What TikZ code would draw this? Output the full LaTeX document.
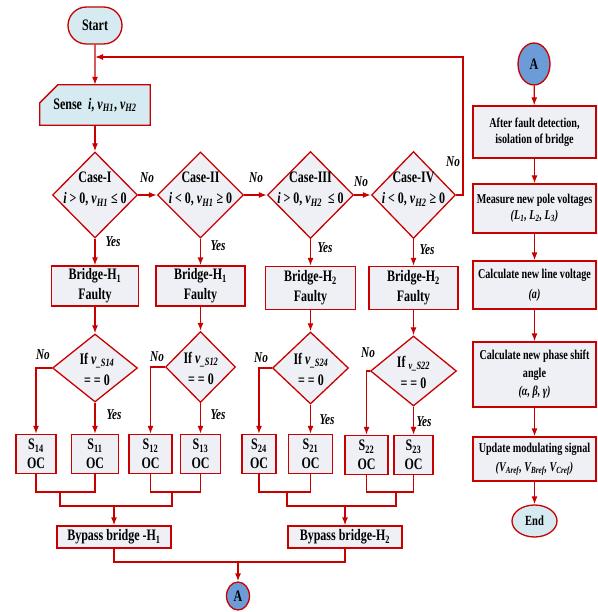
\documentclass[tikz,border=0pt]{standalone}
\usepackage{fontspec}
\setmainfont[FakeStretch=0.75]{Liberation Serif}
\usetikzlibrary{shapes.geometric,shapes.misc,arrows.meta,backgrounds}
\definecolor{rd}{HTML}{C80000}
\definecolor{boxfill}{HTML}{EEF0F6}
\definecolor{termfill}{HTML}{D5EBF1}
\definecolor{afill}{HTML}{6C9CD8}
\begin{document}
\begin{tikzpicture}[x=1pt,y=-1pt,
  base/.style={draw=rd, line width=1.3pt, align=center, font=\bfseries\fontsize{16}{20}\selectfont, inner sep=0pt},
  proc/.style={base, rectangle, fill=boxfill},
  dia/.style={base, diamond, fill=boxfill},
  ttext/.style={align=center, font=\bfseries\fontsize{16}{21}\selectfont, inner sep=0pt},
  sbox/.style={proc, minimum height=39, font=\bfseries\fontsize{16}{19}\selectfont},
  rproc/.style={proc, minimum width=123, font=\bfseries\fontsize{13.5}{16}\selectfont},
  arr/.style={draw=rd, line width=1.3pt, -{Latex[length=8pt,width=6pt]}},
  ln/.style={draw=rd, line width=1.3pt},
  yn/.style={font=\bfseries\itshape\fontsize{15}{18}\selectfont, inner sep=0pt},
]
\useasboundingbox (0,0) rectangle (597,612);

% ---------- left part ----------
\node[base, rounded rectangle, fill=termfill, minimum width=54, minimum height=37] (start) at (95,25.5) {Start};
\node[ttext, minimum width=110, minimum height=40] (sense) at (95,105) {Sense\ \ \textit{i}, \textit{v}\textsubscript{\textit{H1}}, \textit{v}\textsubscript{\textit{H2}}};
\begin{pgfonlayer}{background}
\draw[ln, fill=termfill] (sense.south west) -- (sense.south east) -- (sense.north east) -- ([xshift=18pt]sense.north west) -- ([yshift=-18pt]sense.north west) -- cycle;
\end{pgfonlayer}

% case diamonds
\node[dia, minimum width=85, minimum height=86] (c1) at (95,195) {};
\node[dia, minimum width=86, minimum height=86] (c2) at (200.5,195) {};
\node[dia, minimum width=86, minimum height=87] (c3) at (310.5,195) {};
\node[dia, minimum width=84, minimum height=87] (c4) at (413.5,195) {};
\node[ttext] (c1t) at (95,189) {Case-I\\\textit{i} > 0, \textit{v}\textsubscript{\textit{H1}} ≤ 0};
\node[ttext] (c2t) at (200.5,189) {Case-II\\\textit{i} < 0, \textit{v}\textsubscript{\textit{H1}} ≥ 0};
\node[ttext] (c3t) at (310.5,189) {Case-III\\\textit{i} > 0, \textit{v}\textsubscript{\textit{H2}}\ \ ≤ 0};
\node[ttext] (c4t) at (413.5,189) {Case-IV\\\textit{i} < 0, \textit{v}\textsubscript{\textit{H2}} ≥ 0};

% bridge boxes
\node[proc, minimum width=87, minimum height=40] (b1) at (95,286) {Bridge-H\textsubscript{1}\\Faulty};
\node[proc, minimum width=89, minimum height=40] (b2) at (200.5,286) {Bridge-H\textsubscript{1}\\Faulty};
\node[proc, minimum width=90, minimum height=43] (b3) at (310.5,288) {Bridge-H\textsubscript{2}\\Faulty};
\node[proc, minimum width=89, minimum height=43] (b4) at (413.5,288) {Bridge-H\textsubscript{2}\\Faulty};

% switch diamonds
\node[dia, minimum width=85, minimum height=68] (d1) at (95,368) {};
\node[dia, minimum width=70, minimum height=71] (d2) at (200.5,367) {};
\node[dia, minimum width=76, minimum height=72] (d3) at (310.5,368) {};
\node[dia, minimum width=86, minimum height=70] (d4) at (413.5,371) {};
\node[ttext] (d1t) at (97,369) {If \textit{v}\textsubscript{\textit{\_S14}}\\= = 0};
\node[ttext] (d2t) at (201,368) {If \textit{v}\textsubscript{\textit{\_S12}}\\= = 0};
\node[ttext] (d3t) at (311,369) {If \textit{v}\textsubscript{\textit{\_S24}}\\= = 0};
\node[ttext] (d4t) at (413.5,372) {If \textsubscript{\textit{v\_S22}}\\= = 0};

% switch boxes
\node[sbox, minimum width=40] (s14) at (36,454) {S\textsubscript{14}\\OC};
\node[sbox, minimum width=47] (s11) at (95,454) {S\textsubscript{11}\\OC};
\node[sbox, minimum width=43] (s12) at (150.5,454) {S\textsubscript{12}\\OC};
\node[sbox, minimum width=40] (s13) at (200.5,454) {S\textsubscript{13}\\OC};
\node[sbox, minimum width=34] (s24) at (259,454) {S\textsubscript{24}\\OC};
\node[sbox, minimum width=44] (s21) at (310.5,454) {S\textsubscript{21}\\OC};
\node[sbox, minimum width=43] (s22) at (366.5,455) {S\textsubscript{22}\\OC};
\node[sbox, minimum width=39] (s23) at (413.5,455) {S\textsubscript{23}\\OC};

% bypass boxes
\node[proc, minimum width=114, minimum height=22] (bp1) at (114,537) {Bypass bridge -H\textsubscript{1}};
\node[proc, minimum width=114, minimum height=22] (bp2) at (345,537) {Bypass bridge-H\textsubscript{2}};
\node[base, ellipse, fill=afill, minimum width=23, minimum height=28] (a1) at (238,596) {A};

% ---------- right part ----------
\node[base, ellipse, fill=afill, minimum width=32, minimum height=42] (a2) at (534,64) {A};
\node[rproc, minimum height=52] (r1) at (534.5,132) {After fault detection,\\isolation of bridge};
\node[rproc, minimum height=49] (r2) at (534.5,208.5) {Measure new pole voltages\\\textit{(L\textsubscript{1}, L\textsubscript{2}, L\textsubscript{3})}};
\node[rproc, minimum height=48, font=\bfseries\fontsize{13.5}{20}\selectfont] (r3) at (534.5,285) {Calculate new line voltage\\\textit{(a)}};
\node[rproc, minimum height=65, font=\bfseries\fontsize{13.5}{18}\selectfont] (r4) at (534.5,374.5) {Calculate new phase shift\\angle\\\textit{(α, β, γ)}};
\node[rproc, minimum height=44, font=\bfseries\fontsize{13.5}{19}\selectfont] (r5) at (534.5,459) {Update modulating signal\\\textit{(V\textsubscript{Aref}, V\textsubscript{Bref}, V\textsubscript{Cref})}};
\node[base, ellipse, fill=termfill, minimum width=45, minimum height=32, font=\bfseries\fontsize{14}{17}\selectfont] (end) at (534.5,521) {End};

% ---------- connectors ----------
\coordinate (fbr) at (463,57);
\coordinate (fbl) at (95,57);
\draw[arr] (start) -- (sense);
\draw[arr] (c4.east) -| (fbr) -- (fbl);
\draw[arr] (sense) -- (c1);
\draw[arr] (c1) -- (c2);
\draw[arr] (c2) -- (c3);
\draw[arr] (c3) -- (c4);
\foreach \i in {1,2,3,4} {
  \draw[arr] (c\i) -- (b\i);
  \draw[arr] (b\i) -- (d\i);
}
\draw[arr] (d1.west) -| (s14.north);
\draw[arr] (d2.west) -| (s12.north);
\draw[arr] (d3.west) -| (s24.north);
\draw[arr] (d4.west) -| (s22.north);
\draw[arr] (d1) -- (s11);
\draw[arr] (d2) -- (s13);
\draw[arr] (d3) -- (s21);
\draw[arr] (d4) -- (s23);

\coordinate (m1) at (60,492);
\coordinate (m2) at (172,492);
\coordinate (m3) at (287,492);
\coordinate (m4) at (396,492);
\coordinate (n1) at (114,506);
\coordinate (n2) at (345,506);
\coordinate (n3) at (238,562);
\draw[ln] (s14.south) |- (m1) -| (s11.south);
\draw[ln] (s12.south) |- (m2) -| (s13.south);
\draw[ln] (s24.south) |- (m3) -| (s21.south);
\draw[ln] (s22.south) |- (m4) -| (s23.south);
\draw[ln] (m1) |- (n1) -| (m2);
\draw[ln] (m3) |- (n2) -| (m4);
\draw[arr] (n1) -- (bp1);
\draw[arr] (n2) -- (bp2);
\draw[ln] (bp1.south) |- (n3) -| (bp2.south);
\draw[arr] (n3) -- (a1);

\draw[arr] (a2) -- (r1);
\draw[arr] (r1) -- (r2);
\draw[arr] (r2) -- (r3);
\draw[arr] (r3) -- (r4);
\draw[arr] (r4) -- (r5);
\draw[arr] (r5) -- (end);

% ---------- yes / no labels ----------
\node[yn] (no1) at (147,178) {No};
\node[yn] (no2) at (256,178) {No};
\node[yn] (no3) at (361,182) {No};
\node[yn] (no4) at (453,162) {No};
\node[yn] (ye1) at (113,242) {Yes};
\node[yn] (ye2) at (218,246) {Yes};
\node[yn] (ye3) at (325,248) {Yes};
\node[yn] (ye4) at (427,250) {Yes};
\node[yn] (sno1) at (43,355) {No};
\node[yn] (sno2) at (157,357) {No};
\node[yn] (sno3) at (261,358) {No};
\node[yn] (sno4) at (368,353) {No};
\node[yn] (sye1) at (114,415) {Yes};
\node[yn] (sye2) at (218,415) {Yes};
\node[yn] (sye3) at (327,420) {Yes};
\node[yn] (sye4) at (424,422) {Yes};
\end{tikzpicture}
\end{document}
